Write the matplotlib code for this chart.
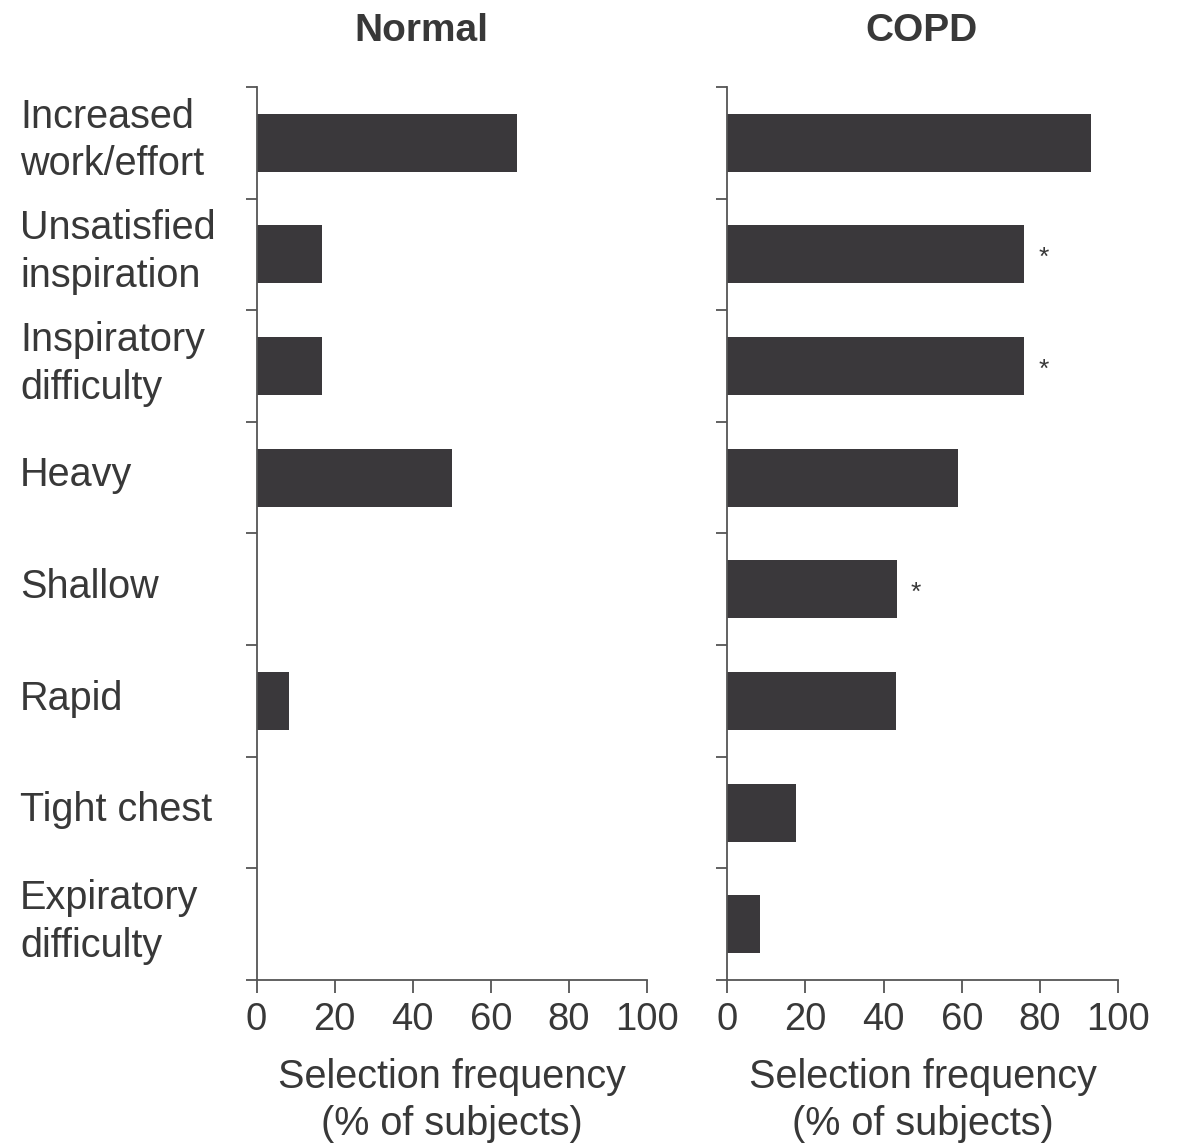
import matplotlib.pyplot as plt
import matplotlib.transforms as mtransforms

plt.rcParams['font.family'] = ['Liberation Sans', 'DejaVu Sans']

# Descriptors of breathing discomfort, top to bottom
descriptors = ['Increased\nwork/effort', 'Unsatisfied\ninspiration', 'Inspiratory\ndifficulty',
               'Heavy', 'Shallow', 'Rapid', 'Tight chest', 'Expiratory\ndifficulty']
normal_pct = [66.7, 16.7, 16.7, 50.0, 0.0, 8.3, 0.0, 0.0]
copd_pct = [92.9, 76.0, 76.0, 59.0, 43.3, 43.2, 17.6, 8.4]
copd_signif = [False, True, True, False, True, False, False, False]

bar_color = '#3a383b'
axis_color = '#555555'
text_color = '#383838'

fig = plt.figure(figsize=(11.81, 11.43), dpi=100)
ax_n = fig.add_axes([0.2172, 0.1426, 0.3306, 0.7813])
ax_c = fig.add_axes([0.6158, 0.1426, 0.3311, 0.7813])

ypos = list(range(len(descriptors)))

for ax, vals in [(ax_n, normal_pct), (ax_c, copd_pct)]:
    ax.barh(ypos, vals, height=0.52, color=bar_color, edgecolor='none')
    ax.set_xlim(0, 100)
    ax.set_ylim(len(descriptors) - 0.5, -0.5)
    ax.set_xticks([0, 20, 40, 60, 80, 100])
    ax.set_yticks([y - 0.5 for y in range(len(descriptors) + 1)])
    ax.set_yticklabels([])
    ax.tick_params(axis='x', direction='out', length=9, width=1.3, color=axis_color,
                   labelsize=27.5, labelcolor=text_color, pad=7)
    ax.tick_params(axis='y', direction='out', length=8, width=1.3, color=axis_color)
    for side in ['top', 'right']:
        ax.spines[side].set_visible(False)
    for side in ['left', 'bottom']:
        ax.spines[side].set_color(axis_color)
        ax.spines[side].set_linewidth(1.3)
    ax.text(0.5, -0.087, 'Selection frequency\n(% of subjects)', transform=ax.transAxes,
            ha='center', va='top', fontsize=28.5, color=text_color, linespacing=1.32)

# significance markers beside COPD bars
for y, v, s in zip(ypos, copd_pct, copd_signif):
    if s:
        ax_c.text(v + 3.5, y + 0.03, '*', ha='left', va='center', fontsize=19, color=text_color)

# category labels at the left edge of the figure
trans = mtransforms.blended_transform_factory(fig.transFigure, ax_n.transData)
for y, name in zip(ypos, descriptors):
    ax_n.text(0.017, y - 0.02, name, transform=trans, ha='left', va='center',
              fontsize=28.5, color=text_color, linespacing=1.32, clip_on=False)

fig.text(0.3565, 0.973, 'Normal', ha='center', va='center', fontsize=28,
         fontweight='bold', color=text_color)
fig.text(0.7805, 0.973, 'COPD', ha='center', va='center', fontsize=28,
         fontweight='bold', color=text_color)

fig.savefig('out.png', dpi=100)
